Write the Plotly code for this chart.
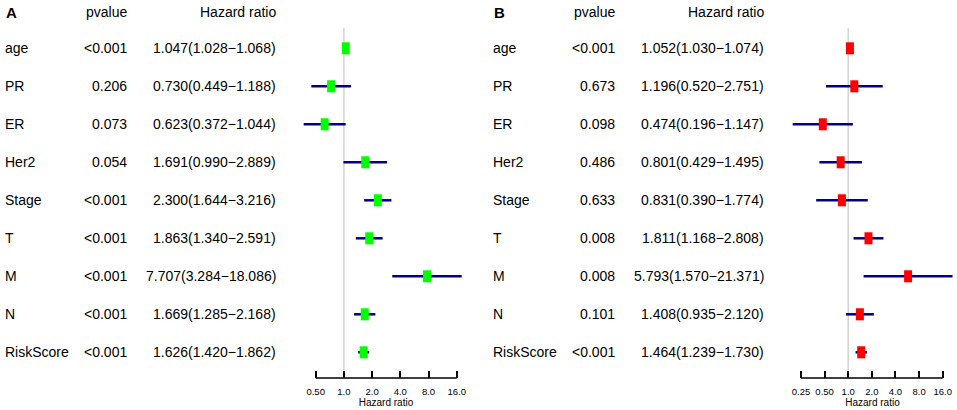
#!/usr/bin python3

# Imports
# ~~~~~~~~~~~~~~~~~~~~~~~~~~~~~~~~~~~~~~~~~~~~~~~~~~~~~~~~~~~~~~~~~~~~~~~~~~~~~~~~~~~~~~~~
from math import log10

from plotly import graph_objects as go

# ~~~~~~~~~~~~~~~~~~~~~~~~~~~~~~~~~~~~~~~~~~~~~~~~~~~~~~~~~~~~~~~~~~~~~~~~~~~~~~~~~~~~~~~~

VARIABLES = ["age", "PR", "ER", "Her2", "Stage", "T", "M", "N", "RiskScore"]

# Panel A
PVALUE_A = ["<0.001", "0.206", "0.073", "0.054", "<0.001", "<0.001", "<0.001", "<0.001", "<0.001"]
HR_A = [1.047, 0.730, 0.623, 1.691, 2.300, 1.863, 7.707, 1.669, 1.626]
LOWER_A = [1.028, 0.449, 0.372, 0.990, 1.644, 1.340, 3.284, 1.285, 1.420]
UPPER_A = [1.068, 1.188, 1.044, 2.889, 3.216, 2.591, 18.086, 2.168, 1.862]
TICKS_A = [0.5, 1, 2, 4, 8, 16]
TICKTEXT_A = ["0.50", "1.0", "2.0", "4.0", "8.0", "16.0"]

# Panel B
PVALUE_B = ["<0.001", "0.673", "0.098", "0.486", "0.633", "0.008", "0.008", "0.101", "<0.001"]
HR_B = [1.052, 1.196, 0.474, 0.801, 0.831, 1.811, 5.793, 1.408, 1.464]
LOWER_B = [1.030, 0.520, 0.196, 0.429, 0.390, 1.168, 1.570, 0.935, 1.239]
UPPER_B = [1.074, 2.751, 1.147, 1.495, 1.774, 2.808, 21.371, 2.120, 1.730]
TICKS_B = [0.25, 0.5, 1, 2, 4, 8, 16]
TICKTEXT_B = ["0.25", "0.50", "1.0", "2.0", "4.0", "8.0", "16.0"]


W, H = 957, 410
FONT = "Liberation Sans, Arial, sans-serif"
TEXT_SIZE = 14
CI_COLOUR = "#00008B"

# pixel geometry
ROW_TOP, ROW_STEP = 48.3, 38.0
PLOT_TOP, PLOT_BOTTOM = 28, 378


def px_x(p):
    return p / W


def px_y(p):
    return 1 - p / H


def log_axis(ticks, ticktext, tick_px, dom_px):
    # keep the tick span where it sits in the picture, leave room for long CIs
    k = (tick_px[1] - tick_px[0]) / (log10(ticks[-1]) - log10(ticks[0]))
    lo = log10(ticks[0]) - (tick_px[0] - dom_px[0]) / k
    hi = log10(ticks[-1]) + (dom_px[1] - tick_px[1]) / k
    return dict(
        type="log",
        domain=[px_x(dom_px[0]), px_x(dom_px[1])],
        range=[lo, hi],
        anchor="y",
        showgrid=False,
        zeroline=False,
        showline=False,
        ticks="inside",
        ticklen=7,
        tickwidth=1.5,
        tickcolor="black",
        tickvals=ticks,
        ticktext=ticktext,
        ticklabelstandoff=6,
        tickfont=dict(family=FONT, size=9.5, color="black"),
        title=dict(text="Hazard ratio", font=dict(family=FONT, size=10, color="black"), standoff=2),
    )


def text_note(text, x, y, xanchor, yref="y", font=None):
    return dict(text=text, x=x, y=y, xref="paper", yref=yref,
                xanchor=xanchor, yanchor="middle", showarrow=False,
                font=font or dict(family=FONT, size=TEXT_SIZE, color="black"))


fig = go.Figure()

panels = [
    dict(name="A", xref="x", offset=0, p=PVALUE_A, hr=HR_A, lo=LOWER_A, hi=UPPER_A,
         ticks=TICKS_A, ticktext=TICKTEXT_A, tick_px=(315.7, 456.7), dom_px=(300, 472),
         colour="#00FF00"),
    dict(name="B", xref="x2", offset=488, p=PVALUE_B, hr=HR_B, lo=LOWER_B, hi=UPPER_B,
         ticks=TICKS_B, ticktext=TICKTEXT_B, tick_px=(801.0, 942.7), dom_px=(788, 957),
         colour="#FF0000"),
]

rows = list(range(len(VARIABLES)))
annotations = []
shapes = []

for panel in panels:
    ci_x, ci_y = [], []
    for i in rows:
        ci_x += [panel["lo"][i], panel["hi"][i], None]
        ci_y += [i, i, None]

    fig.add_trace(go.Scatter(
        x=ci_x, y=ci_y, mode="lines",
        line=dict(color=CI_COLOUR, width=2.5),
        xaxis=panel["xref"], yaxis="y", hoverinfo="skip",
    ))
    # box drawn as a thick vertical tick -> 8x12 px rectangle
    fig.add_trace(go.Scatter(
        x=panel["hr"], y=rows, mode="markers",
        marker=dict(symbol="line-ns", size=8.6,
                    line=dict(width=8, color=panel["colour"])),
        xaxis=panel["xref"], yaxis="y",
    ))

    off = panel["offset"]
    # column headers
    annotations.append(text_note("<b>%s</b>" % panel["name"], px_x(4 + off), px_y(12), "left",
                                 yref="paper", font=dict(family=FONT, size=15, color="black")))
    annotations.append(text_note("pvalue", px_x(129 + off), px_y(12), "right", yref="paper"))
    annotations.append(text_note("Hazard ratio", px_x(278 + off), px_y(12), "right", yref="paper"))

    for i in rows:
        hr_text = "%.3f(%.3f\u2212%.3f)" % (panel["hr"][i], panel["lo"][i], panel["hi"][i])
        annotations.append(text_note(VARIABLES[i], px_x(3 + off), i, "left"))
        annotations.append(text_note(panel["p"][i], px_x(129 + off), i, "right"))
        annotations.append(text_note(hr_text, px_x(278 + off), i, "right"))

    # reference line at HR = 1 and the axis line over the tick span
    shapes.append(dict(type="line", xref=panel["xref"], yref="paper", x0=1, x1=1,
                       y0=px_y(PLOT_BOTTOM), y1=px_y(PLOT_TOP),
                       line=dict(color="#D3D3D3", width=1.5), layer="below"))
    shapes.append(dict(type="line", xref=panel["xref"], yref="paper",
                       x0=panel["ticks"][0], x1=panel["ticks"][-1],
                       y0=px_y(PLOT_BOTTOM), y1=px_y(PLOT_BOTTOM),
                       line=dict(color="black", width=1.5)))

y_lo = (PLOT_TOP - ROW_TOP) / ROW_STEP
y_hi = (PLOT_BOTTOM - ROW_TOP) / ROW_STEP

fig.update_layout(
    width=W,
    height=H,
    margin=dict(l=0, r=0, t=0, b=0),
    showlegend=False,
    font=dict(family=FONT, color="black"),
    paper_bgcolor="white",
    plot_bgcolor="rgba(0,0,0,0)",
    xaxis=log_axis(TICKS_A, TICKTEXT_A, panels[0]["tick_px"], panels[0]["dom_px"]),
    xaxis2=log_axis(TICKS_B, TICKTEXT_B, panels[1]["tick_px"], panels[1]["dom_px"]),
    yaxis=dict(
        domain=[px_y(PLOT_BOTTOM), px_y(PLOT_TOP)],
        range=[y_hi, y_lo],
        visible=False,
        fixedrange=True,
    ),
    annotations=annotations,
    shapes=shapes,
)

# drop the browser's default body margin so the figure sits at the top-left corner
fig.write_html(
    "out.html",
    config={"displayModeBar": False},
    post_script="document.body.style.margin='0';",
)
